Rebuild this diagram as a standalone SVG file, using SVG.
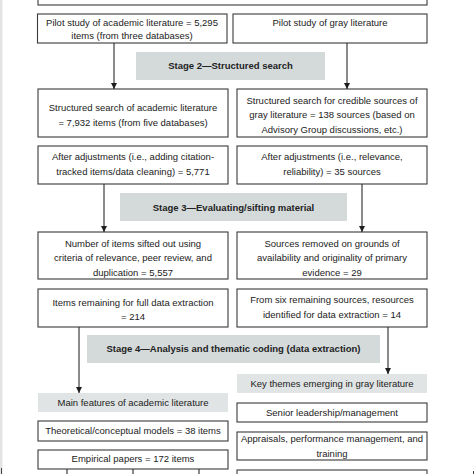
<svg xmlns="http://www.w3.org/2000/svg" width="474" height="474" viewBox="0 0 474 474">
<style>
  .box { fill: #ffffff; stroke: #3a3a3a; stroke-width: 1.1; }
  .band { fill: #d4dada; stroke: none; }
  .sub { fill: #e0e4e4; stroke: none; }
  text { font-family: "Liberation Sans", Arial, sans-serif; font-size: 9.5px; fill: #222222; text-anchor: middle; }
  .b { font-weight: bold; }
  .conn line { stroke: #2a2a2a; stroke-width: 1.1; }
</style>
<defs>
  <marker id="ah" viewBox="0 0 6 6" refX="6" refY="3" markerWidth="6" markerHeight="6" markerUnits="userSpaceOnUse" orient="auto">
    <path d="M0,0 L6,3 L0,6 z" fill="#1e1e1e"/>
  </marker>
</defs>
<rect x="0" y="0" width="474" height="474" fill="#ffffff"/>
<rect x="0" y="0" width="2.5" height="474" fill="#e4e4e4"/>
<line x1="1.5" y1="468" x2="1.5" y2="474" stroke="#444" stroke-width="1"/>
<line x1="473.5" y1="471" x2="473.5" y2="474" stroke="#444" stroke-width="1"/>

<g id="top-box"><rect class="box" x="38" y="-2" width="389" height="7"/></g>

<g id="pilot-academic">
  <rect class="box" x="37.5" y="14" width="189.5" height="29"/>
  <text x="132" y="25.7">Pilot study of academic literature = 5,295</text>
  <text x="132" y="39">items (from three databases)</text>
</g>
<g id="pilot-gray">
  <rect class="box" x="233" y="14" width="194" height="29"/>
  <text x="330" y="25.7">Pilot study of gray literature</text>
</g>

<g id="stage2">
  <rect class="band" x="136" y="52" width="189" height="28"/>
  <text class="b" x="230.5" y="68.5">Stage 2—Structured search</text>
</g>

<g id="structured-academic">
  <rect class="box" x="38" y="89" width="190" height="48"/>
  <text x="133" y="111">Structured search of academic literature</text>
  <text x="133" y="125.5">= 7,932 items (from five databases)</text>
</g>
<g id="structured-gray">
  <rect class="box" x="237" y="89" width="190" height="48"/>
  <text x="332" y="103.5">Structured search for credible sources of</text>
  <text x="332" y="118">gray literature = 138 sources (based on</text>
  <text x="332" y="132.5">Advisory Group discussions, etc.)</text>
</g>

<g id="adjust-academic">
  <rect class="box" x="38" y="146" width="190" height="38"/>
  <text x="133" y="160">After adjustments (i.e., adding citation-</text>
  <text x="133" y="175">tracked items/data cleaning) = 5,771</text>
</g>
<g id="adjust-gray">
  <rect class="box" x="237" y="146" width="190" height="38"/>
  <text x="332" y="160">After adjustments (i.e., relevance,</text>
  <text x="332" y="175">reliability) = 35 sources</text>
</g>

<g id="stage3">
  <rect class="band" x="120" y="193" width="227" height="28"/>
  <text class="b" x="233.5" y="210.5">Stage 3—Evaluating/sifting material</text>
</g>

<g id="sifted-academic">
  <rect class="box" x="38" y="232" width="190" height="47"/>
  <text x="133" y="246.5">Number of items sifted out using</text>
  <text x="133" y="260.5">criteria of relevance, peer review, and</text>
  <text x="133" y="275.5">duplication = 5,557</text>
</g>
<g id="removed-gray">
  <rect class="box" x="237" y="232" width="190" height="47"/>
  <text x="332" y="246.5">Sources removed on grounds of</text>
  <text x="332" y="260.5">availability and originality of primary</text>
  <text x="332" y="275.5">evidence = 29</text>
</g>

<g id="remaining-academic">
  <rect class="box" x="38" y="289" width="190" height="38"/>
  <text x="133" y="305.5">Items remaining for full data extraction</text>
  <text x="133" y="319.5">= 214</text>
</g>
<g id="remaining-gray">
  <rect class="box" x="237" y="289" width="190" height="38"/>
  <text x="332" y="303">From six remaining sources, resources</text>
  <text x="332" y="317.5">identified for data extraction = 14</text>
</g>

<g id="stage4">
  <rect class="band" x="87" y="335" width="293" height="28"/>
  <text class="b" x="233.5" y="352.3">Stage 4—Analysis and thematic coding (data extraction)</text>
</g>

<g id="key-themes">
  <rect class="sub" x="237" y="374" width="190" height="19"/>
  <text x="332" y="387.3">Key themes emerging in gray literature</text>
</g>
<g id="main-features">
  <rect class="sub" x="38" y="393" width="190" height="19"/>
  <text x="133" y="405.7">Main features of academic literature</text>
</g>
<g id="senior">
  <rect class="box" x="237" y="403" width="190" height="19"/>
  <text x="332" y="415.7">Senior leadership/management</text>
</g>
<g id="theoretical">
  <rect class="box" x="38" y="421" width="190" height="20"/>
  <text x="133" y="434">Theoretical/conceptual models = 38 items</text>
</g>
<g id="appraisals">
  <rect class="box" x="237" y="432" width="190" height="28"/>
  <text x="332" y="442.3">Appraisals, performance management, and</text>
  <text x="332" y="456.7">training</text>
</g>
<g id="empirical">
  <rect class="box" x="38" y="450" width="190" height="19"/>
  <text x="133" y="462.3">Empirical papers = 172 items</text>
</g>
<g id="next-gray">
  <rect class="box" x="237" y="470" width="190" height="10"/>
</g>

<g class="conn" id="connectors">
  <line x1="114" y1="43" x2="114" y2="89" marker-end="url(#ah)"/>
  <line x1="347" y1="43" x2="347" y2="89" marker-end="url(#ah)"/>
  <line x1="104" y1="184" x2="104" y2="232" marker-end="url(#ah)"/>
  <line x1="362" y1="184" x2="362" y2="232" marker-end="url(#ah)"/>
  <line x1="79" y1="327" x2="79" y2="393" marker-end="url(#ah)"/>
  <line x1="388" y1="327" x2="388" y2="374" marker-end="url(#ah)"/>
  <line x1="67" y1="469" x2="67" y2="475"/>
  <line x1="133" y1="469" x2="133" y2="475"/>
  <line x1="199" y1="469" x2="199" y2="475"/>
</g>
</svg>
